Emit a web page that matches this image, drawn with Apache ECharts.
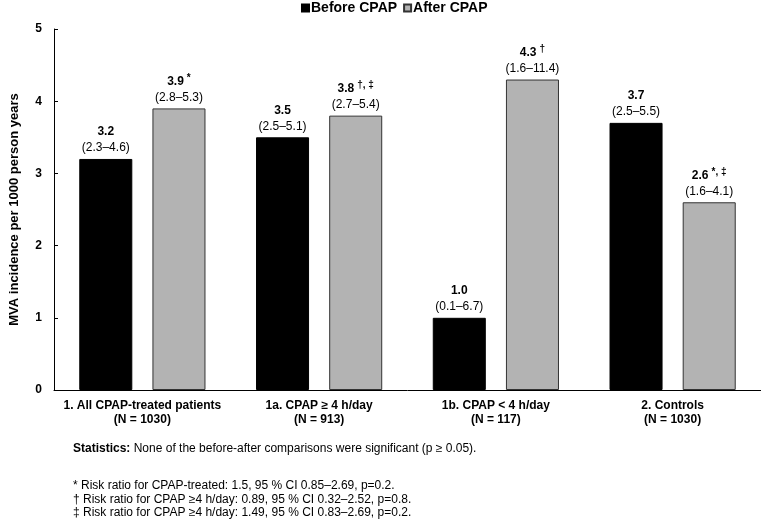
<!DOCTYPE html>
<html>
<head>
<meta charset="utf-8">
<style>
  html, body { margin: 0; padding: 0; background: #fff; }
  #chart-container { width: 761px; height: 524px; }
</style>
<script src="https://cdn.jsdelivr.net/npm/echarts@6/dist/echarts.min.js"></script>
</head>
<body>
<div id="chart-container"></div>
<script>
var categories = [
  '1. All CPAP-treated patients\n(N = 1030)',
  '1a. CPAP \u2265 4 h/day\n(N = 913)',
  '1b. CPAP < 4 h/day\n(N = 117)',
  '2. Controls\n(N = 1030)'
];
var beforeValues = [3.2, 3.5, 1.0, 3.7];
var afterValues = [3.9, 3.8, 4.3, 2.6];
var beforeCI = ['2.3\u20134.6', '2.5\u20135.1', '0.1\u20136.7', '2.5\u20135.5'];
var afterCI = ['2.8\u20135.3', '2.7\u20135.4', '1.6\u201311.4', '1.6\u20134.1'];
var afterMarks = ['*', '\u2020, \u2021', '\u2020', '*, \u2021'];
var yTicks = [0, 1, 2, 3, 4, 5];

var FONT = 'Liberation Sans, Arial, sans-serif';

var dom = document.getElementById('chart-container');
var myChart = echarts.init(dom, null, { renderer: 'canvas' });

var labelRich = {
  v: { fontFamily: FONT, fontSize: 12, fontWeight: 'bold', color: '#000', lineHeight: 16 },
  s: { fontFamily: FONT, fontSize: 10, fontWeight: 'bold', color: '#000', lineHeight: 16, verticalAlign: 'top', padding: [0, 0, 0, 3] },
  r: { fontFamily: FONT, fontSize: 12, color: '#000', lineHeight: 16 }
};

function makeLabel(ci, marks) {
  return function (p) {
    var top = '{v|' + p.value.toFixed(1) + '}';
    if (marks && marks[p.dataIndex]) top += '{s|' + marks[p.dataIndex] + '}';
    return top + '\n{r|(' + ci[p.dataIndex] + ')}';
  };
}

var option = {
  animation: false,
  backgroundColor: '#fff',
  textStyle: { fontFamily: FONT },
  legend: {
    top: 0,
    left: 296,
    padding: [1, 5],
    itemWidth: 7,
    itemHeight: 7,
    itemGap: 6,
    icon: 'rect',
    textStyle: { fontFamily: FONT, fontSize: 14, fontWeight: 'bold', color: '#000', padding: [0, 0, 0, -3] },
    data: ['Before CPAP', 'After CPAP']
  },
  grid: { left: 53, right: 0, top: 29, bottom: 134, containLabel: false },
  xAxis: {
    type: 'category',
    data: categories,
    axisLine: { lineStyle: { color: '#000', width: 1 } },
    axisTick: { inside: true, length: 4, lineStyle: { color: '#000' } },
    axisLabel: {
      interval: 0,
      margin: 9,
      color: '#000',
      fontFamily: FONT,
      fontSize: 12,
      fontWeight: 'bold',
      lineHeight: 14
    }
  },
  yAxis: {
    type: 'value',
    min: yTicks[0],
    max: yTicks[yTicks.length - 1],
    interval: 1,
    name: 'MVA incidence per 1000 person years',
    nameLocation: 'middle',
    nameGap: 33,
    nameTextStyle: { fontFamily: FONT, fontSize: 13, fontWeight: 'bold', color: '#000' },
    axisLine: { show: true, lineStyle: { color: '#000', width: 1 } },
    axisTick: { show: true, inside: true, length: 4, lineStyle: { color: '#000' } },
    splitLine: { show: false },
    axisLabel: { margin: 12, color: '#000', fontFamily: FONT, fontSize: 12, fontWeight: 'bold' }
  },
  series: [
    {
      name: 'Before CPAP',
      type: 'bar',
      data: beforeValues,
      barWidth: '30%',
      barGap: '38%',
      itemStyle: { color: '#000', borderColor: '#000', borderWidth: 1 },
      label: {
        show: true,
        position: 'top',
        distance: 3,
        align: 'center',
        formatter: makeLabel(beforeCI, null),
        rich: labelRich
      }
    },
    {
      name: 'After CPAP',
      type: 'bar',
      data: afterValues,
      barWidth: '30%',
      itemStyle: { color: '#b3b3b3', borderColor: '#333', borderWidth: 1 },
      label: {
        show: true,
        position: 'top',
        distance: 3,
        align: 'center',
        formatter: makeLabel(afterCI, afterMarks),
        rich: labelRich
      }
    }
  ],
  graphic: [
    {
      type: 'text',
      left: 73,
      top: 443,
      style: {
        text: '{b|Statistics:} None of the before-after comparisons were significant (p \u2265 0.05).',
        rich: {
          b: { fontFamily: FONT, fontSize: 12, fontWeight: 'bold', fill: '#000' }
        },
        fontFamily: FONT,
        fontSize: 12,
        fill: '#000'
      }
    },
    {
      type: 'text',
      left: 73,
      top: 479,
      style: {
        text: '* Risk ratio for CPAP-treated: 1.5, 95 % CI 0.85\u20132.69, p=0.2.\n' +
              '\u2020 Risk ratio for CPAP \u22654 h/day: 0.89, 95 % CI 0.32\u20132.52, p=0.8.\n' +
              '\u2021 Risk ratio for CPAP \u22654 h/day: 1.49, 95 % CI 0.83\u20132.69, p=0.2.',
        fontFamily: FONT,
        fontSize: 12,
        lineHeight: 13.5,
        fill: '#000'
      }
    }
  ]
};

myChart.setOption(option);
window.addEventListener('resize', myChart.resize);
</script>
</body>
</html>
